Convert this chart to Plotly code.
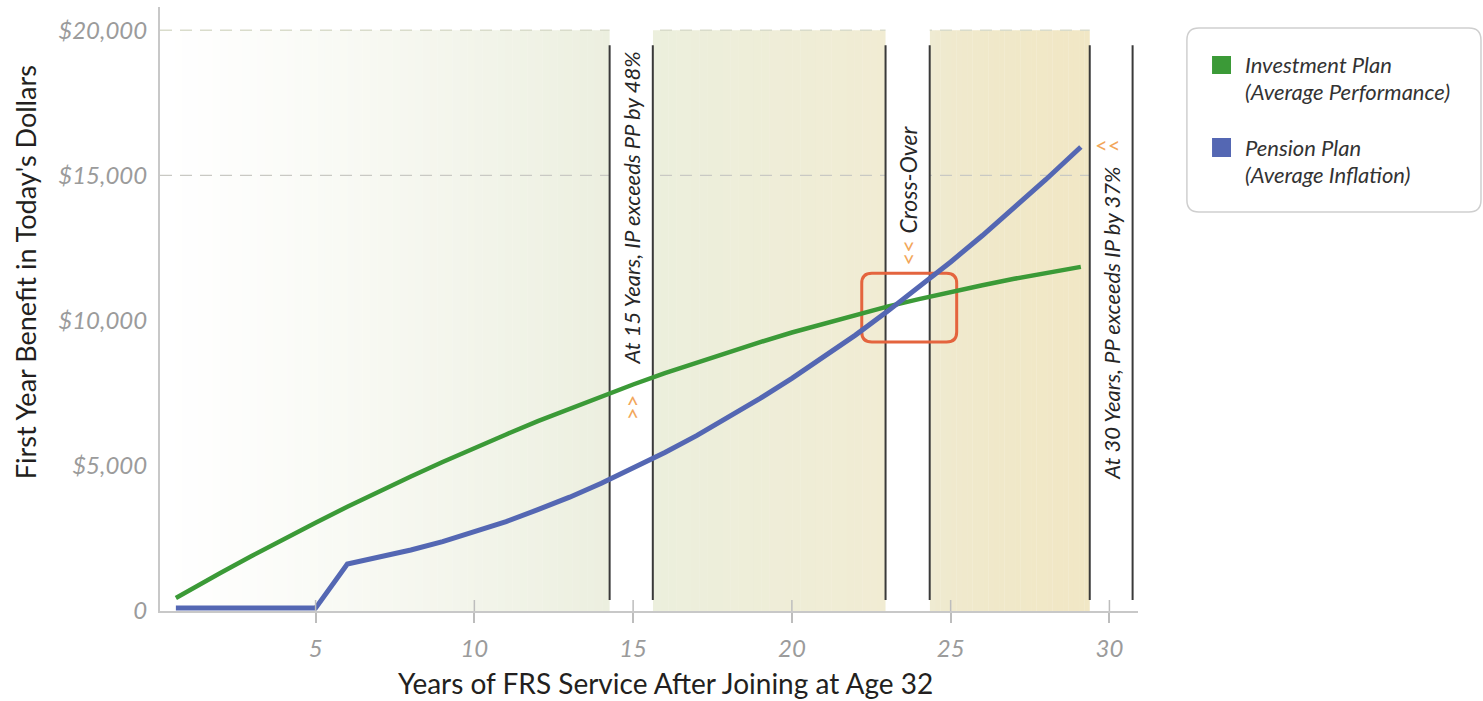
import plotly.graph_objects as go

# ---- data -------------------------------------------------------------
years = [0.6, 1, 2, 3, 4, 5, 6, 7, 8, 9, 10, 11, 12, 13, 14, 15, 16, 17, 18,
         19, 20, 21, 22, 23, 24, 25, 26, 27, 28, 29.1]
investment_plan = [450, 700, 1310, 1900, 2480, 3040, 3590, 4120, 4630, 5130,
                   5620, 6080, 6540, 6970, 7390, 7800, 8190, 8560, 8920, 9260,
                   9590, 9900, 10200, 10480, 10740, 10990, 11220, 11440, 11640,
                   11850]
pension_plan = [100, 100, 100, 100, 100, 100, 1620, 1840, 2100, 2390, 2720,
                3080, 3490, 3920, 4400, 4910, 5460, 6040, 6660, 7320, 8010,
                8740, 9500, 10310, 11140, 12020, 12930, 13880, 14860, 15980]

x_ticks = [5, 10, 15, 20, 25, 30]
y_ticks = [0, 5000, 10000, 15000, 20000]
y_tick_labels = ["0", "$5,000", "$10,000", "$15,000", "$20,000"]

# highlighted milestone columns (start, end) in years
band_15 = (14.26, 15.62)
band_cross = (22.95, 24.34)
band_30 = (29.38, 30.73)
crossover_box = (22.2, 25.19, 9260, 11635)

X_RANGE = [0.1, 30.9]
Y_RANGE = [0, 20800]

GREEN = "#3b9a37"
BLUE = "#5467b3"
ORANGE = "#f2a65a"
FONT = "Lato"

fig = go.Figure()

shapes = []


def gradient(x0, x1, c0, c1, n, y1=20000, power=1.0):
    """Fill [x0, x1] with n thin rectangles blending c0 -> c1."""
    w = (x1 - x0) / n
    for i in range(n):
        t = ((i + 0.5) / n) ** power
        r, g, b = (round(a + (bb - a) * t) for a, bb in zip(c0, c1))
        shapes.append(dict(type="rect", xref="x", yref="y", layer="below",
                           x0=x0 + i * w, x1=x0 + (i + 1) * w + w * 0.05,
                           y0=0, y1=y1, line=dict(width=0),
                           fillcolor=f"rgb({r},{g},{b})"))


# background shading
gradient(X_RANGE[0], band_15[0], (255, 255, 255), (236, 239, 223), 60, power=1.2)
gradient(band_15[1], band_cross[0], (236, 239, 221), (241, 236, 211), 30)
gradient(band_cross[1], band_30[0], (238, 236, 214), (241, 231, 197), 30, power=0.35)

# dashed reference lines
for val, col, x_end in [(15000, "#c9c9c4", band_30[0]), (20000, "#d9dccb", X_RANGE[1])]:
    shapes.append(dict(type="line", xref="x", yref="y", layer="below",
                       x0=X_RANGE[0], x1=x_end, y0=val, y1=val,
                       line=dict(color=col, width=1.3, dash="12px,8px")))

# white milestone columns with dark borders
for b0, b1 in (band_15, band_cross, band_30):
    shapes.append(dict(type="rect", xref="x", yref="y", layer="below",
                       x0=b0, x1=b1, y0=0, y1=Y_RANGE[1],
                       line=dict(width=0), fillcolor="white"))
for b0, b1 in (band_15, band_cross, band_30):
    for xv in (b0, b1):
        shapes.append(dict(type="line", xref="x", yref="y", layer="below",
                           x0=xv, x1=xv, y0=380, y1=19480,
                           line=dict(color="#3a3a3a", width=2)))

# rounded box around the cross-over point
bx0, bx1, by0, by1 = crossover_box
rx, ry = 0.32, 345
box_path = (f"M {bx0+rx},{by1} L {bx1-rx},{by1} Q {bx1},{by1} {bx1},{by1-ry} "
            f"L {bx1},{by0+ry} Q {bx1},{by0} {bx1-rx},{by0} "
            f"L {bx0+rx},{by0} Q {bx0},{by0} {bx0},{by0+ry} "
            f"L {bx0},{by1-ry} Q {bx0},{by1} {bx0+rx},{by1} Z")
shapes.append(dict(type="path", xref="x", yref="y", layer="below",
                   path=box_path, line=dict(color="#e4643e", width=3)))

# tick marks reaching into the plot area
for t in x_ticks:
    shapes.append(dict(type="line", xref="x", yref="paper", layer="above",
                       x0=t, x1=t, y0=0, y1=11 / 604,
                       line=dict(color="#bdbdbd", width=1.5)))

# legend box (paper coordinates)
lx0, lx1, ly0, ly1 = 1.050, 1.3507, 0.6606, 0.9652
lrx, lry = 0.0123, 0.0199
legend_path = (f"M {lx0+lrx},{ly1} L {lx1-lrx},{ly1} Q {lx1},{ly1} {lx1},{ly1-lry} "
               f"L {lx1},{ly0+lry} Q {lx1},{ly0} {lx1-lrx},{ly0} "
               f"L {lx0+lrx},{ly0} Q {lx0},{ly0} {lx0},{ly0+lry} "
               f"L {lx0},{ly1-lry} Q {lx0},{ly1} {lx0+lrx},{ly1} Z")
shapes.append(dict(type="path", xref="paper", yref="paper", path=legend_path,
                   line=dict(color="#cfcfcf", width=1.5), fillcolor="white"))
for col, y_top, y_bot in [(GREEN, 0.9189, 0.8891), (BLUE, 0.7831, 0.7517)]:
    shapes.append(dict(type="rect", xref="paper", yref="paper",
                       x0=1.0757, x1=1.0951, y0=y_bot, y1=y_top,
                       line=dict(width=0), fillcolor=col))

# ---- traces -----------------------------------------------------------
fig.add_trace(go.Scatter(x=years, y=investment_plan, mode="lines",
                         name="Investment Plan",
                         line=dict(color=GREEN, width=4.5)))
fig.add_trace(go.Scatter(x=years, y=pension_plan, mode="lines",
                         name="Pension Plan",
                         line=dict(color=BLUE, width=5)))

# ---- annotations ------------------------------------------------------
label_font = dict(family=FONT, size=22, color="#262626", style="italic")
chev_font = dict(family=FONT, size=22, color=ORANGE)
mid15 = sum(band_15) / 2
midx = sum(band_cross) / 2
mid30 = sum(band_30) / 2
annotations = [
    dict(x=mid15, y=13870, text="At 15 Years, IP exceeds PP by 48%",
         textangle=-90, font=label_font),
    dict(x=mid15, y=7020, text="&gt;&gt;", textangle=-90, font=chev_font),
    dict(x=midx, y=14850, text="Cross-Over", textangle=-90,
         font=dict(label_font, size=23)),
    dict(x=midx, y=12330, text="&lt;&lt;", textangle=-90, font=chev_font),
    dict(x=mid30, y=9900, text="At 30 Years, PP exceeds IP by 37%",
         textangle=-90, font=label_font),
    dict(x=29.96, y=16050, text="&lt;&lt;", font=chev_font),
]
for a in annotations:
    a.update(xref="x", yref="y", showarrow=False, xanchor="center",
             yanchor="middle")

legend_font = dict(family=FONT, size=22, color="#333333", style="italic")
for txt, yv in [("Investment Plan", 0.9040), ("(Average Performance)", 0.8593),
                ("Pension Plan", 0.7666), ("(Average Inflation)", 0.7219)]:
    annotations.append(dict(xref="paper", yref="paper", x=1.1074, y=yv,
                            text=txt, showarrow=False, xanchor="left",
                            yanchor="middle", font=legend_font))

annotations.append(dict(xref="paper", yref="paper", x=-0.138, y=0.561,
                        text="First Year Benefit in Today's Dollars",
                        textangle=-90, showarrow=False, xanchor="center",
                        yanchor="middle",
                        font=dict(family=FONT, size=27, color="#231f20")))
annotations.append(dict(xref="paper", yref="paper", x=0.517, y=-0.12,
                        text="Years of FRS Service After Joining at Age 32",
                        showarrow=False, xanchor="center", yanchor="middle",
                        font=dict(family=FONT, size=28, color="#231f20")))

tick_font = dict(family=FONT, size=24, color="#9b9b9b", style="italic")

fig.update_layout(
    width=1483, height=701,
    margin=dict(l=160, r=345, t=7, b=90),
    paper_bgcolor="white", plot_bgcolor="white",
    showlegend=False,
    shapes=shapes,
    annotations=annotations,
    xaxis=dict(range=X_RANGE, tickvals=x_ticks, showgrid=False,
               zeroline=False, showline=True, linecolor="#c8c8c8",
               linewidth=2, ticks="outside", ticklen=10, tickwidth=1.5,
               tickcolor="#bdbdbd", tickfont=tick_font,
               ticklabelstandoff=5),
    yaxis=dict(range=Y_RANGE, tickvals=y_ticks, ticktext=y_tick_labels,
               showgrid=False, zeroline=False, showline=True,
               linecolor="#c8c8c8", linewidth=2, ticks="",
               tickfont=tick_font, ticklabelstandoff=6),
)

fig.write_html("out.html")
